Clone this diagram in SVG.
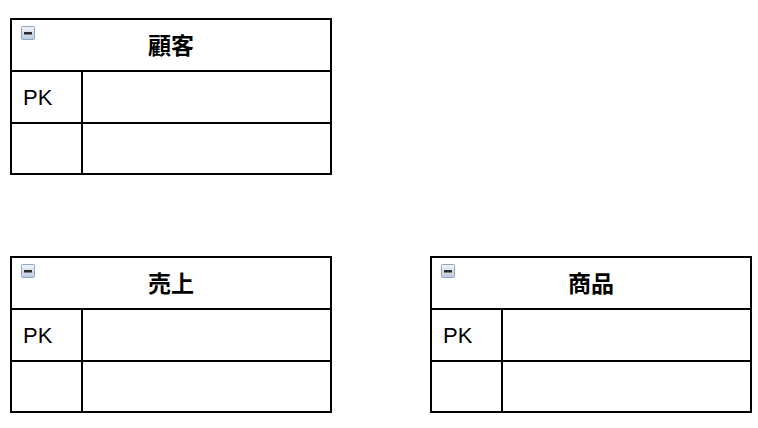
<svg xmlns="http://www.w3.org/2000/svg" width="758" height="428" viewBox="0 0 758 428">
<defs>
<style>
.box{fill:#ffffff;stroke:#000000;stroke-width:2}
.ln{stroke:#000000;stroke-width:2;fill:none}
.title{font-family:"Liberation Sans","Noto Sans CJK JP",sans-serif;font-size:23px;font-weight:bold;text-anchor:middle;fill:#000}
.pk{font-family:"Liberation Sans","Noto Sans CJK JP",sans-serif;font-size:22px;fill:#000}
</style>
<linearGradient id="ig" x1="0" y1="0" x2="0" y2="1">
<stop offset="0" stop-color="#f2f5f9"/>
<stop offset="1" stop-color="#bccadb"/>
</linearGradient>
<g id="icon">
<rect x="0.5" y="0.5" width="13" height="13" rx="1" fill="url(#ig)" stroke="#8ea6c2" stroke-width="1"/>
<rect x="3" y="6" width="8" height="2.5" fill="#2a2a2a"/>
</g>
</defs>
<rect width="758" height="428" fill="#ffffff"/>
<g id="customer">
<rect class="box" x="11" y="19" width="320" height="155"/>
<line class="ln" x1="11" y1="71" x2="331" y2="71"/>
<line class="ln" x1="11" y1="123" x2="331" y2="123"/>
<line class="ln" x1="82" y1="71" x2="82" y2="174"/>
<use href="#icon" x="21" y="26"/>
<text class="title" x="171" y="54">顧客</text>
<text class="pk" x="23" y="105">PK</text>
</g>
<g id="sales">
<rect class="box" x="11" y="257" width="320" height="155"/>
<line class="ln" x1="11" y1="309" x2="331" y2="309"/>
<line class="ln" x1="11" y1="361" x2="331" y2="361"/>
<line class="ln" x1="82" y1="309" x2="82" y2="412"/>
<use href="#icon" x="21" y="264"/>
<text class="title" x="171" y="292">売上</text>
<text class="pk" x="23" y="343">PK</text>
</g>
<g id="product">
<rect class="box" x="431" y="257" width="320" height="155"/>
<line class="ln" x1="431" y1="309" x2="751" y2="309"/>
<line class="ln" x1="431" y1="361" x2="751" y2="361"/>
<line class="ln" x1="502" y1="309" x2="502" y2="412"/>
<use href="#icon" x="441" y="264"/>
<text class="title" x="591" y="292">商品</text>
<text class="pk" x="443" y="343">PK</text>
</g>
<g id="connectors"></g>
</svg>
